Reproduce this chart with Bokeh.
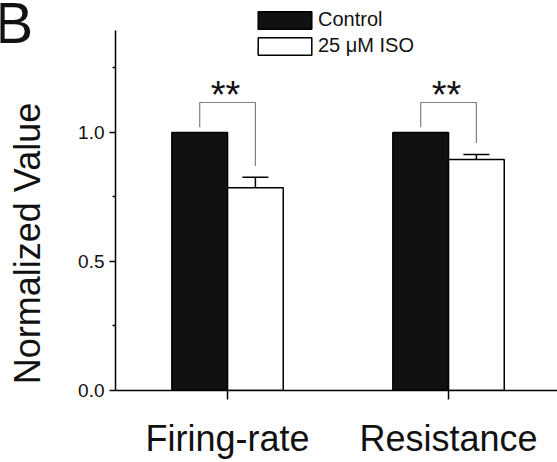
import math
from bokeh.plotting import figure
from bokeh.layouts import row
from bokeh.models import (Range1d, FixedTicker, Whisker, TeeHead, ColumnDataSource,
                          Legend, LegendItem, CustomJSTickFormatter)
from bokeh.core.properties import value
from bokeh.embed import file_html
from bokeh.resources import INLINE

# ---- data ----
categories = ["Firing-rate", "Resistance"]
control = [1.0, 1.0]
iso = [0.786, 0.895]
iso_err = [0.040, 0.020]
significance = ["**", "**"]
series_names = ["Control", "25 \u03bcM ISO"]
y_ticks = [0.0, 0.5, 1.0]
y_minor = [0.25, 0.75, 1.25]
y_axis_title = "Normalized Value"
panel_letter = "B"

FONT = "Liberation Sans"
TXT = "#111111"
pos = [i + 1 for i in range(len(categories))]
bw = 0.252
y_axis_top = 1.395

# ---- left strip with panel letter and y-axis title ----
LW, H = 70, 462
t = figure(frame_width=LW, frame_height=H, output_backend="svg",
           toolbar_location=None, x_axis_type=None, y_axis_type=None,
           x_range=Range1d(0, LW), y_range=Range1d(0, H),
           min_border_left=0, min_border_right=0, min_border_top=0,
           min_border_bottom=0)
t.grid.visible = False
t.outline_line_color = None
t.text(x=[-6], y=[H - 22], text=[panel_letter], text_align="left",
       text_baseline="alphabetic", text_font=value(FONT),
       text_font_size="58px", text_color=TXT)
t.text(x=[27], y=[H - 243], text=[y_axis_title], angle=math.pi / 2,
       text_align="center", text_baseline="alphabetic", text_font=value(FONT),
       text_font_size="36px", text_color=TXT)

# ---- main chart ----
p = figure(width=557 - LW, height=H, output_backend="svg", toolbar_location=None,
           x_range=Range1d(0.493, 2.493), y_range=Range1d(0, 1.5113),
           min_border_left=45, min_border_right=0, min_border_top=0,
           min_border_bottom=72)
p.outline_line_color = None
p.xgrid.visible = False
p.ygrid.visible = False

ctrl_r = p.vbar(x=[x - bw / 2 for x in pos], top=control, width=bw, bottom=0,
                fill_color="#111111", line_color="black", line_width=1.5)
iso_r = p.vbar(x=[x + bw / 2 for x in pos], top=iso, width=bw, bottom=0,
               fill_color="white", line_color="black", line_width=1.5)

src = ColumnDataSource(dict(x=[x + bw / 2 for x in pos], lower=iso,
                            upper=[v + e for v, e in zip(iso, iso_err)]))
p.add_layout(Whisker(base="x", lower="lower", upper="upper", source=src,
                     line_width=1.5, line_color="black",
                     upper_head=TeeHead(size=26, line_width=1.5, line_color="black"),
                     lower_head=None))

# significance brackets
top = max(control) + 0.116
xs, ys = [], []
for x, c, v, e in zip(pos, control, iso, iso_err):
    xl, xr = x - bw / 2, x + bw / 2
    xs.append([xl, xl, xr, xr])
    ys.append([c + 0.02, top, top, v + e + 0.044])
p.multi_line(xs, ys, line_color="#808080", line_width=1.2)
p.text(x=pos, y=[top] * len(pos), text=significance, text_align="center",
       text_baseline="alphabetic", x_offset=-2, y_offset=-8,
       text_font=value(FONT), text_font_size="38px", text_color=TXT)

# axes
xa = p.xaxis[0]
xa.ticker = FixedTicker(ticks=pos)
xa.major_label_overrides = {x: c for x, c in zip(pos, categories)}
xa.major_label_text_font = FONT
xa.major_label_text_font_size = "36px"
xa.major_label_text_color = TXT
xa.major_label_standoff = 18
xa.major_tick_in = 0
xa.major_tick_out = 9
xa.minor_tick_line_color = None
xa.axis_line_width = 1.5
xa.major_tick_line_width = 1.5

ya = p.yaxis[0]
ya.bounds = (0, y_axis_top)
ya.ticker = FixedTicker(ticks=y_ticks, minor_ticks=y_minor)
ya.formatter = CustomJSTickFormatter(code="return tick.toFixed(1);")
ya.major_label_text_font = FONT
ya.major_label_text_font_size = "19px"
ya.major_label_text_color = TXT
ya.major_label_standoff = 5
ya.major_tick_in = 0
ya.major_tick_out = 6
ya.minor_tick_in = 0
ya.minor_tick_out = 3
ya.axis_line_width = 1.5
ya.major_tick_line_width = 1.5
ya.minor_tick_line_width = 1.5

legend = Legend(items=[LegendItem(label=series_names[0], renderers=[ctrl_r]),
                       LegendItem(label=series_names[1], renderers=[iso_r])],
                location=(136, 333), glyph_width=67, glyph_height=22,
                spacing=3, padding=0, margin=0, label_standoff=0,
                label_text_font=FONT, label_text_font_size="20px",
                label_text_color=TXT, border_line_color=None,
                background_fill_alpha=0)
p.add_layout(legend, "center")

layout = row(t, p, spacing=0)
open("out.html", "w").write(file_html(layout, INLINE))
